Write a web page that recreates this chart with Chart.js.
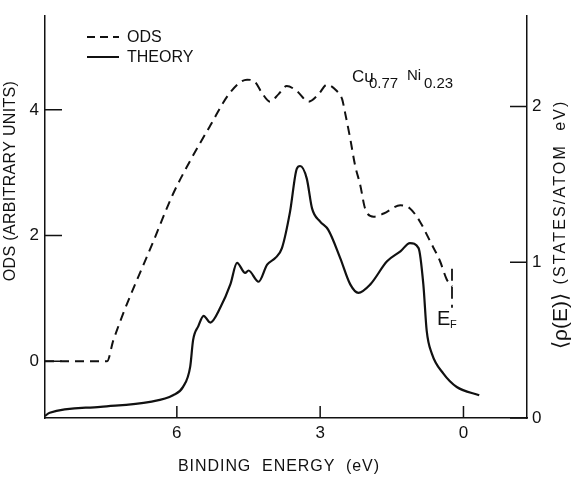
<!DOCTYPE html>
<html>
<head>
<meta charset="utf-8">
<script src="https://cdn.jsdelivr.net/npm/chart.js@4/dist/chart.umd.min.js"></script>
<style>
  html, body { margin: 0; padding: 0; background: #fff; }
  #plot { display: block; }
</style>
</head>
<body>
<canvas id="plot" width="574" height="477"></canvas>
<script>
/* ODS spectrum and theoretical DOS for Cu0.77Ni0.23 vs binding energy */

const INK  = '#111111';
const FONT = "'Liberation Sans', Arial, sans-serif";

// measured ODS (left axis, arbitrary units)
const odsE = [8.76, 7.46, 7.33, 6.49, 6.08, 5.72, 5.30, 4.89, 4.53, 4.36, 4.22, 4.05, 3.87, 3.70, 3.49,
              3.24, 3.03, 2.86, 2.65, 2.54, 2.48, 2.37, 2.27, 2.16, 2.06, 1.88, 1.67, 1.32, 1.12, 0.91,
              0.70, 0.49, 0.35, 0.24];
const odsV = [0, 0, 0.33, 1.91, 2.66, 3.19, 3.75, 4.27, 4.48, 4.44, 4.27, 4.13, 4.25, 4.38, 4.30,
              4.13, 4.25, 4.40, 4.30, 4.17, 3.96, 3.54, 3.12, 2.80, 2.43, 2.30, 2.35, 2.48, 2.43, 2.22,
              1.91, 1.59, 1.30, 1.19];

// theory <rho(E)> (right axis, states/atom eV)
const thE = [8.76, 8.66, 7.60, 6.56, 6.08, 5.87, 5.72, 5.66, 5.55, 5.44, 5.30, 5.09, 4.88, 4.74, 4.57,
             4.50, 4.29, 4.11, 3.94, 3.80, 3.63, 3.49, 3.42, 3.28, 3.17, 3.00, 2.83, 2.58, 2.37, 2.20,
             1.95, 1.60, 1.32, 1.12, 0.94, 0.84, 0.77, 0.66, 0.42, 0.14, -0.33];
const thV = [0.013, 0.034, 0.072, 0.104, 0.146, 0.20, 0.33, 0.50, 0.59, 0.656, 0.613, 0.709, 0.858, 0.996, 0.932,
             0.947, 0.875, 0.985, 1.027, 1.091, 1.325, 1.60, 1.618, 1.537, 1.346, 1.261, 1.208, 1.027, 0.858, 0.804,
             0.858, 1.006, 1.070, 1.123, 1.091, 0.858, 0.561, 0.412, 0.285, 0.199, 0.146];

// Fermi level marker (left axis units)
const efE = [0.24, 0.24];
const efV = [1.47, 0.85];

// axis ticks and ranges
const xTicks  = [6, 3, 0];
const yTicks  = [0, 2, 4];
const y1Ticks = [0, 1, 2];
const xRange  = [-1.33, 8.76];
const yRange  = [-0.905, 5.49];
const y1Range = [0, 2.58];

const pts = (xs, ys) => xs.map((x, i) => ({ x, y: ys[i] }));
const setTicks = vals => scale => { scale.ticks = vals.map(v => ({ value: v })); };

/* text stretched (via letter spacing) to a given length, optionally rotated */
function fitText(ctx, text, cx, cy, width, angle) {
  ctx.save();
  ctx.translate(cx, cy);
  ctx.rotate(angle || 0);
  ctx.letterSpacing = '0px';
  const w = ctx.measureText(text).width;
  const n = [...text].length;
  ctx.letterSpacing = ((width - w) / (n - 1)).toFixed(2) + 'px';
  ctx.textAlign = 'center';
  ctx.textBaseline = 'middle';
  ctx.fillText(text, 0, 0);
  ctx.restore();
}

const decor = {
  id: 'decor',
  afterDraw(chart) {
    const { ctx, chartArea: a, scales } = chart;
    ctx.save();
    ctx.strokeStyle = INK;
    ctx.fillStyle = INK;
    ctx.lineWidth = 1.5;

    // tick marks point into the plot
    ctx.beginPath();
    scales.x.ticks.forEach(t => {
      const px = scales.x.getPixelForValue(t.value);
      ctx.moveTo(px, a.bottom); ctx.lineTo(px, a.bottom - 12);
    });
    scales.y.ticks.forEach(t => {
      const py = scales.y.getPixelForValue(t.value);
      ctx.moveTo(a.left, py); ctx.lineTo(a.left + 17, py);
    });
    scales.y1.ticks.forEach(t => {
      const py = scales.y1.getPixelForValue(t.value);
      ctx.moveTo(a.right, py); ctx.lineTo(a.right - 17, py);
    });
    ctx.stroke();

    // axis titles
    ctx.font = '16px ' + FONT;
    fitText(ctx, 'BINDING  ENERGY  (eV)', 279, 467, 201, 0);
    fitText(ctx, 'ODS (ARBITRARY UNITS)', 11, 181, 200, -Math.PI / 2);
    fitText(ctx, '(STATES/ATOM  eV)', 561, 192, 183, -Math.PI / 2);
    ctx.font = '21px ' + FONT;
    fitText(ctx, '\u27E8\u03C1(E)\u27E9', 561, 321, 56, -Math.PI / 2);

    // legend
    ctx.lineWidth = 2;
    ctx.setLineDash([8, 5]);
    ctx.beginPath(); ctx.moveTo(87, 37); ctx.lineTo(119, 37); ctx.stroke();
    ctx.setLineDash([]);
    ctx.beginPath(); ctx.moveTo(87, 57); ctx.lineTo(119, 57); ctx.stroke();
    ctx.font = '16px ' + FONT;
    ctx.textAlign = 'left';
    ctx.textBaseline = 'middle';
    ctx.fillText('ODS', 127, 38);
    ctx.fillText('THEORY', 127, 58);

    // alloy label
    ctx.textBaseline = 'alphabetic';
    ctx.font = '17px ' + FONT;
    ctx.fillText('Cu', 352, 82);
    ctx.font = '15px ' + FONT;
    ctx.fillText('0.77', 369, 88);
    ctx.fillText('Ni', 407, 80);
    ctx.fillText('0.23', 424, 88);

    // Fermi level label
    ctx.font = '20px ' + FONT;
    ctx.fillText('E', 437, 325);
    ctx.font = '11px ' + FONT;
    ctx.fillText('F', 450, 328);
    ctx.restore();
  }
};

new Chart(document.getElementById('plot'), {
  type: 'line',
  data: {
    datasets: [
      {
        label: 'ODS',
        data: pts(odsE, odsV),
        yAxisID: 'y',
        borderColor: INK,
        borderWidth: 2,
        borderDash: [9, 6],
        pointRadius: 0,
        cubicInterpolationMode: 'monotone',
      },
      {
        label: 'THEORY',
        data: pts(thE, thV),
        yAxisID: 'y1',
        borderColor: INK,
        borderWidth: 2.2,
        pointRadius: 0,
        cubicInterpolationMode: 'monotone',
      },
      {
        label: 'EF',
        data: pts(efE, efV),
        yAxisID: 'y',
        borderColor: INK,
        borderWidth: 1.8,
        borderDash: [12, 6],
        pointRadius: 0,
      },
    ],
  },
  options: {
    responsive: false,
    animation: false,
    layout: { padding: { top: 13 } },
    plugins: { legend: { display: false }, tooltip: { enabled: false } },
    scales: {
      x: {
        type: 'linear',
        reverse: true,
        min: xRange[0], max: xRange[1],
        afterBuildTicks: setTicks(xTicks),
        afterFit: s => { s.height = 59; },
        ticks: { color: INK, font: { family: FONT, size: 17 }, padding: 5 },
        grid: { display: false, drawTicks: false },
        border: { display: true, color: INK, width: 1.5 },
      },
      y: {
        position: 'left',
        min: yRange[0], max: yRange[1],
        afterBuildTicks: setTicks(yTicks),
        afterFit: s => { s.width = 45; },
        ticks: { color: INK, font: { family: FONT, size: 17 }, padding: 6 },
        grid: { display: false, drawTicks: false },
        border: { display: true, color: INK, width: 1.5 },
      },
      y1: {
        position: 'right',
        min: y1Range[0], max: y1Range[1],
        afterBuildTicks: setTicks(y1Ticks),
        afterFit: s => { s.width = 47; },
        ticks: { color: INK, font: { family: FONT, size: 17 }, padding: 5 },
        grid: { display: false, drawTicks: false },
        border: { display: true, color: INK, width: 1.5 },
      },
    },
  },
  plugins: [decor],
});
</script>
</body>
</html>
